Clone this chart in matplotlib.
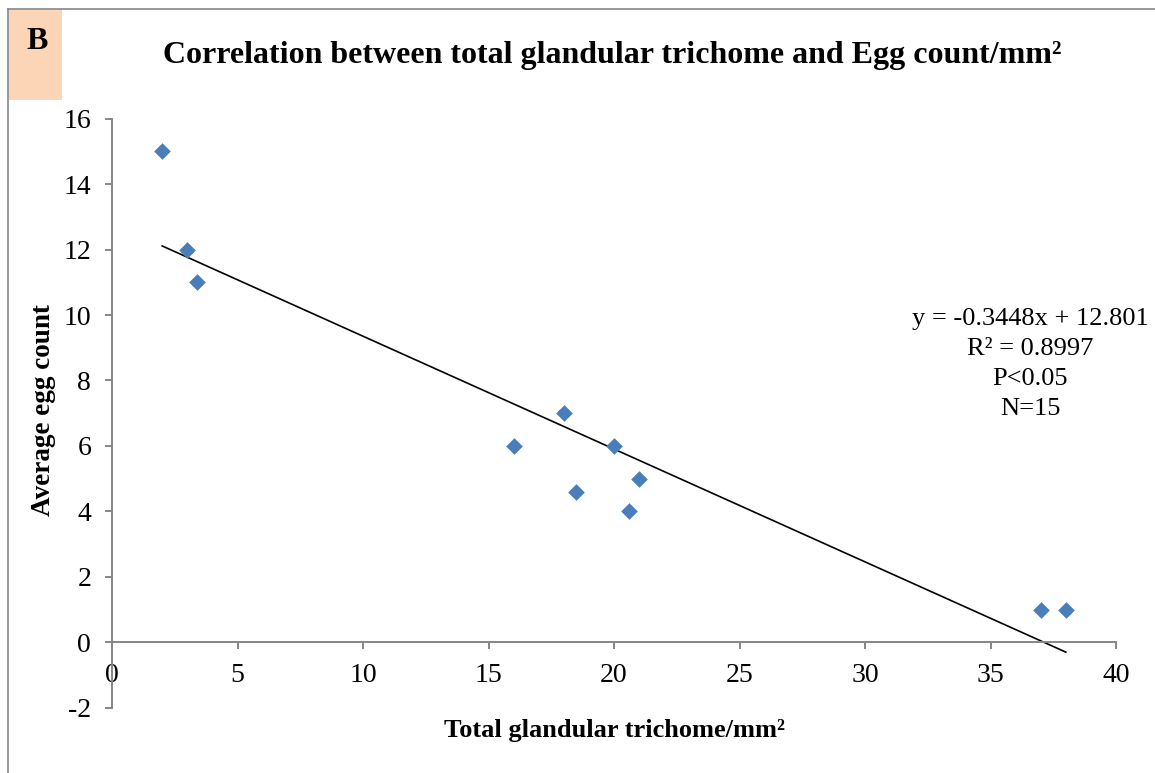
import matplotlib
matplotlib.use("Agg")
import matplotlib.pyplot as plt
from matplotlib.patches import Rectangle
from matplotlib.lines import Line2D

# Observations: glandular trichome density vs. average egg count
trichome = [2, 3, 3.4, 16, 18, 18.5, 20, 21, 20.6, 37, 38]
egg_count = [15, 12, 11, 6, 7, 4.6, 6, 5, 4, 1, 1]

# Linear trendline reported on the chart
slope = -0.3448
intercept = 12.801
r_squared = 0.8997

x_ticks = [0, 5, 10, 15, 20, 25, 30, 35, 40]
y_ticks = [-2, 0, 2, 4, 6, 8, 10, 12, 14, 16]

plt.rcParams["font.family"] = ["Liberation Serif", "DejaVu Serif"]

W, H = 1155, 773
fig = plt.figure(figsize=(W / 100, H / 100), dpi=100)

axis_grey = "#868686"
marker_blue = "#4A7EBB"

# Frame lines and panel letter box
fig.add_artist(Line2D([8 / W, 8 / W], [0, 1 - 9 / H], color=axis_grey, lw=1.2))
fig.add_artist(Line2D([8 / W, 1], [1 - 9 / H, 1 - 9 / H], color=axis_grey, lw=1.2))
fig.add_artist(Rectangle((8.6 / W, 1 - 100 / H), (62 - 8.6) / W, (100 - 9.6) / H,
                         facecolor="#FBD5B5", edgecolor="none"))
fig.text(37 / W, 1 - 49 / H, "B", fontsize=23, fontweight="bold",
         ha="center", va="baseline")

fig.text(612 / W, 1 - 62.5 / H,
         "Correlation between total glandular trichome and Egg count/mm\u00b2",
         fontsize=23, fontweight="bold", ha="center", va="baseline")

ax = fig.add_axes([112 / W, 1 - 707.7 / H, (1116 - 112) / W, (707.7 - 118.7) / H])
ax.set_xlim(0, 40)
ax.set_ylim(-2, 16)

ax.scatter(trichome, egg_count, marker="D", s=72, color=marker_blue,
           linewidths=0, zorder=3, clip_on=False)

x0, x1 = min(trichome), max(trichome)
ax.plot([x0, x1], [slope * x0 + intercept, slope * x1 + intercept],
        color="black", lw=1.2, zorder=2, clip_on=False)

for side in ("top", "right"):
    ax.spines[side].set_visible(False)
ax.spines["bottom"].set_position(("data", 0))
for side in ("left", "bottom"):
    ax.spines[side].set_color(axis_grey)
    ax.spines[side].set_linewidth(1.4)

ax.set_xticks(x_ticks)
ax.set_yticks(y_ticks)
ax.set_xticklabels([str(v) for v in x_ticks])
ax.set_yticklabels([str(v) for v in y_ticks])
ax.tick_params(axis="both", direction="out", length=5, width=1.4,
               color=axis_grey, labelsize=20, pad=10)

ax.text(36.57, 8.5,
        f"y = {slope}x + {intercept}\nR\u00b2 = {r_squared}\nP<0.05\nN=15",
        ha="center", va="center", multialignment="center",
        fontsize=19, linespacing=1.47)

fig.text(44 / W, 1 - 410 / H, "Average egg count", rotation=90,
         fontsize=19.5, fontweight="bold", ha="center", va="center")
fig.text(615 / W, 1 - 737.5 / H, "Total glandular trichome/mm\u00b2",
         fontsize=19, fontweight="bold", ha="center", va="baseline")

fig.savefig("out.png", dpi=100)
